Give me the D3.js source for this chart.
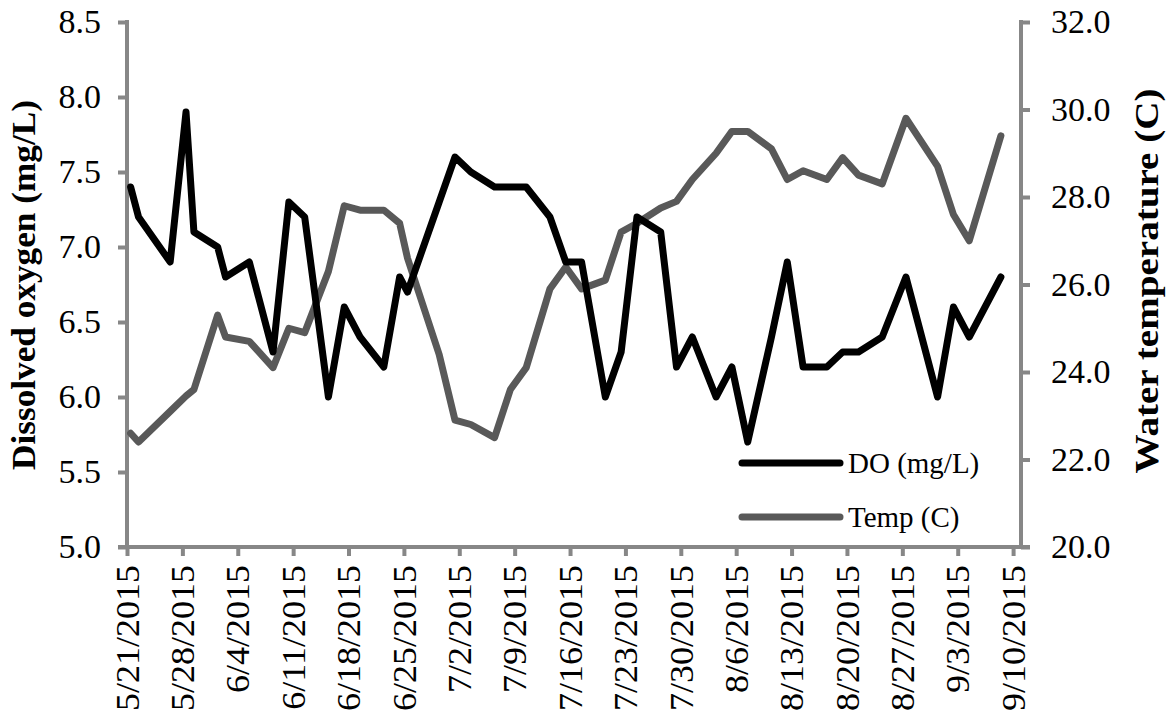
<!DOCTYPE html>
<html>
<head>
<meta charset="utf-8">
<script src="https://cdn.jsdelivr.net/npm/d3@7"></script>
<style>
  body { margin: 0; background: #fff; }
  svg { display: block; }
  text { font-family: "Liberation Serif", "Times New Roman", serif; fill: #000; }
  .axis-title { font-weight: bold; }
</style>
</head>
<body>
<div id="chart"></div>
<script>
// sampling dates (about 11 am each day)
var dates = ["2015-05-21","2015-05-22","2015-05-26","2015-05-28","2015-05-29","2015-06-01","2015-06-02",
  "2015-06-05","2015-06-08","2015-06-10","2015-06-12","2015-06-15","2015-06-17","2015-06-19","2015-06-22",
  "2015-06-24","2015-06-25","2015-06-29","2015-07-01","2015-07-03","2015-07-06","2015-07-08","2015-07-10",
  "2015-07-13","2015-07-15","2015-07-17","2015-07-20","2015-07-22","2015-07-24","2015-07-27","2015-07-29",
  "2015-07-31","2015-08-03","2015-08-05","2015-08-07","2015-08-10","2015-08-12","2015-08-14","2015-08-17",
  "2015-08-19","2015-08-21","2015-08-24","2015-08-27","2015-08-31","2015-09-02","2015-09-04","2015-09-08"];

var doValues = [7.4, 7.2, 6.9, 7.9, 7.1, 7.0, 6.8,
  6.9, 6.3, 7.3, 7.2, 6.0, 6.6, 6.4, 6.2,
  6.8, 6.7, 7.3, 7.6, 7.5, 7.4, 7.4, 7.4,
  7.2, 6.9, 6.9, 6.0, 6.3, 7.2, 7.1, 6.2,
  6.4, 6.0, 6.2, 5.7, 6.4, 6.9, 6.2, 6.2,
  6.3, 6.3, 6.4, 6.8, 6.0, 6.6, 6.4, 6.8];

var tempValues = [22.6, 22.4, 23.1, 23.45, 23.6, 25.3, 24.8,
  24.7, 24.1, 25.0, 24.9, 26.3, 27.8, 27.7, 27.7,
  27.4, 26.6, 24.4, 22.9, 22.8, 22.5, 23.6, 24.1,
  25.9, 26.4, 25.9, 26.1, 27.2, 27.4, 27.75, 27.9,
  28.4, 29.0, 29.5, 29.5, 29.1, 28.4, 28.6, 28.4,
  28.9, 28.5, 28.3, 29.8, 28.7, 27.6, 27.0, 29.4];

var doTicks = [5.0, 5.5, 6.0, 6.5, 7.0, 7.5, 8.0, 8.5];
var tempTicks = [20, 22, 24, 26, 28, 30, 32];
var seriesNames = ["DO (mg/L)", "Temp (C)"];

var width = 1169, height = 719;
var plot = {left: 127, right: 1021, top: 22, bottom: 547};
var fontStack = "'Liberation Serif', 'Times New Roman', serif";

var parseDate = d3.timeParse("%Y-%m-%d %H:%M");
var parseDay = d3.timeParse("%Y-%m-%d");
var points = dates.map(function(d, i){
  return {date: parseDate(d + " 11:00"), DO: doValues[i], temp: tempValues[i]};
});

var svg = d3.select("#chart").append("svg")
  .attr("width", width)
  .attr("height", height);

var x = d3.scaleTime()
  .domain([parseDay("2015-05-21"), parseDay("2015-09-11")])
  .range([plot.left, plot.right]);
var yDO = d3.scaleLinear().domain([5, 8.5]).range([plot.bottom, plot.top]);
var yTemp = d3.scaleLinear().domain([20, 32]).range([plot.bottom, plot.top]);

var xTicks = d3.timeDay.range(parseDay("2015-05-21"), parseDay("2015-09-11"), 7);
var axisColor = "#878787";

// bottom axis
var xAxis = svg.append("g")
  .attr("transform", "translate(0," + plot.bottom + ")")
  .call(d3.axisBottom(x).tickValues(xTicks).tickSize(9).tickFormat(d3.timeFormat("%-m/%-d/%Y")));
xAxis.attr("font-family", fontStack).attr("font-size", 34);
xAxis.select(".domain").remove();
xAxis.selectAll(".tick line").attr("stroke", axisColor).attr("stroke-width", 4);
xAxis.selectAll(".tick text")
  .attr("transform", "rotate(-90)")
  .attr("text-anchor", "end")
  .attr("x", -17)
  .attr("y", 0)
  .attr("dy", "0.33em")
  .attr("transform", "rotate(-90) scale(1.06,1)");

// left axis
var yAxisL = svg.append("g")
  .attr("transform", "translate(" + plot.left + ",0)")
  .call(d3.axisLeft(yDO).tickValues(doTicks).tickSize(9).tickFormat(d3.format(".1f")));
yAxisL.attr("font-family", fontStack).attr("font-size", 34);
yAxisL.select(".domain").remove();
yAxisL.selectAll(".tick line").attr("stroke", axisColor).attr("stroke-width", 4);
yAxisL.selectAll(".tick text").attr("x", -26);

// right axis
var yAxisR = svg.append("g")
  .attr("transform", "translate(" + plot.right + ",0)")
  .call(d3.axisRight(yTemp).tickValues(tempTicks).tickSize(9).tickFormat(d3.format(".1f")));
yAxisR.attr("font-family", fontStack).attr("font-size", 34);
yAxisR.select(".domain").remove();
yAxisR.selectAll(".tick line").attr("stroke", axisColor).attr("stroke-width", 4);
yAxisR.selectAll(".tick text").attr("x", 30);

// axis lines
svg.append("line").attr("x1", plot.left).attr("x2", plot.left).attr("y1", plot.top - 2).attr("y2", plot.bottom + 2)
  .attr("stroke", axisColor).attr("stroke-width", 4);
svg.append("line").attr("x1", plot.right).attr("x2", plot.right).attr("y1", plot.top - 2).attr("y2", plot.bottom + 2)
  .attr("stroke", axisColor).attr("stroke-width", 4);
svg.append("line").attr("x1", plot.left - 9).attr("x2", plot.right + 9).attr("y1", plot.bottom).attr("y2", plot.bottom)
  .attr("stroke", axisColor).attr("stroke-width", 4);

// series
var lineDO = d3.line()
  .x(function(d){ return x(d.date); })
  .y(function(d){ return yDO(d.DO); });
var lineTemp = d3.line()
  .x(function(d){ return x(d.date); })
  .y(function(d){ return yTemp(d.temp); });

svg.append("path").datum(points)
  .attr("d", lineTemp)
  .attr("fill", "none")
  .attr("stroke", "#595959")
  .attr("stroke-width", 7)
  .attr("stroke-linejoin", "round")
  .attr("stroke-linecap", "round");

svg.append("path").datum(points)
  .attr("d", lineDO)
  .attr("fill", "none")
  .attr("stroke", "#000")
  .attr("stroke-width", 7)
  .attr("stroke-linejoin", "round")
  .attr("stroke-linecap", "round");

// legend
var legendColors = ["#000", "#595959"];
var legend = svg.append("g").attr("transform", "translate(742,463)");
seriesNames.forEach(function(name, i){
  var g = legend.append("g").attr("transform", "translate(0," + (i * 54) + ")");
  g.append("line").attr("x1", 0).attr("x2", 98).attr("y1", 0).attr("y2", 0)
    .attr("stroke", legendColors[i]).attr("stroke-width", 7).attr("stroke-linecap", "round");
  g.append("text").attr("x", 106).attr("y", 0).attr("dy", "0.35em")
    .style("font-size", "29px")
    .text(name);
});

// axis titles
svg.append("text")
  .attr("class", "axis-title")
  .attr("transform", "translate(35,285) rotate(-90)")
  .attr("text-anchor", "middle")
  .attr("textLength", 370)
  .attr("lengthAdjust", "spacingAndGlyphs")
  .style("font-size", "33px")
  .text("Dissolved oxygen (mg/L)");

svg.append("text")
  .attr("class", "axis-title")
  .attr("transform", "translate(1158,281) rotate(-90)")
  .attr("text-anchor", "middle")
  .attr("textLength", 385)
  .attr("lengthAdjust", "spacingAndGlyphs")
  .style("font-size", "33px")
  .text("Water temperature (C)");
</script>
</body>
</html>
